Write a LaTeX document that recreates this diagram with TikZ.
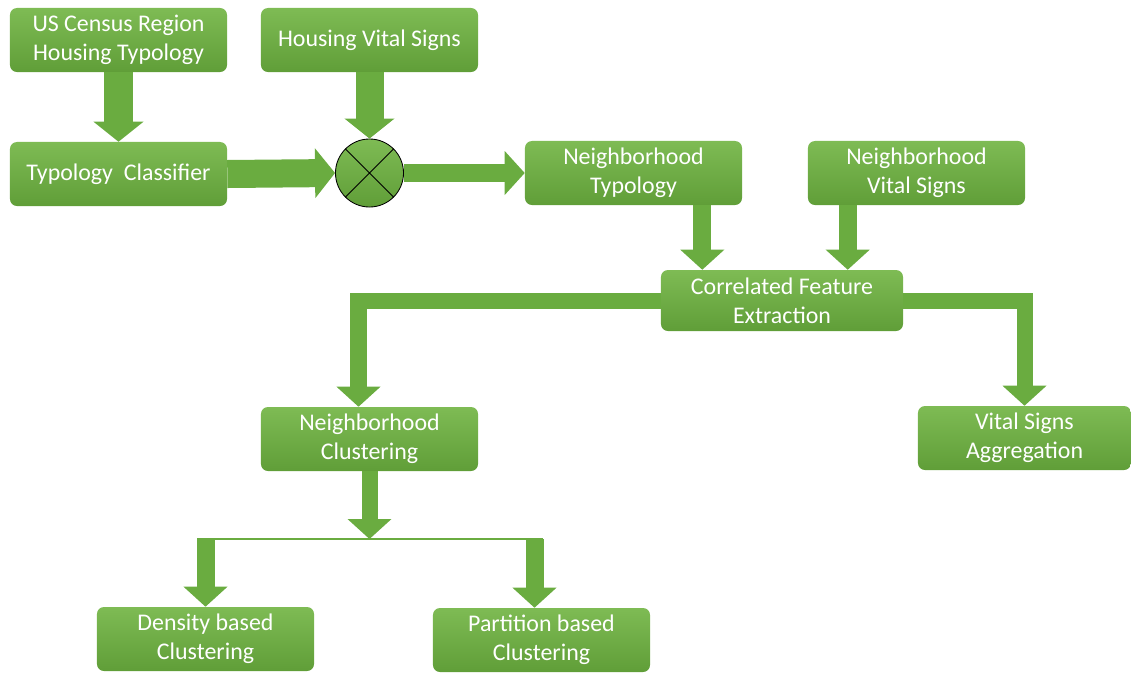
\documentclass[tikz,border=0pt]{standalone}
\usepackage{fontspec}
\setmainfont{Carlito}
\usetikzlibrary{arrows.meta}
\definecolor{boxtop}{RGB}{126,187,84}
\definecolor{boxbot}{RGB}{96,158,56}
\definecolor{arrowgreen}{RGB}{106,172,64}

\begin{document}
\begin{tikzpicture}[x=0.025cm,y=-0.025cm,
	box/.style={rounded corners=5pt, top color=boxtop, bottom color=boxbot, text=white, align=center,
		minimum width=5.425cm, minimum height=1.6cm, inner sep=0pt, font=\fontsize{17}{20.5}\selectfont},
	bigarrow/.style={draw=arrowgreen, line width=0.7cm, -{Triangle[width=1.25cm,length=0.5cm,line width=0pt]}},
	midarrow/.style={draw=arrowgreen, line width=0.45cm, -{Triangle[width=1.1cm,length=0.5cm,line width=0pt]}}]
		\useasboundingbox (0,0) rectangle (1131,673);
		% boxes
		\node[box] (census) at (118.5,40) {US Census Region\\Housing Typology};
		\node[box] (hvital) at (369.5,40) {Housing Vital Signs};
		\node[box] (classifier) at (118.5,174) {Typology\ \ Classifier};
		\node[circle, draw=black, line width=0.6pt, top color=boxtop, bottom color=boxbot, minimum size=1.7cm, inner sep=0pt] (mult) at (369.5,173) {};
		\draw[line width=0.6pt] (mult.north west) -- (mult.south east) (mult.north east) -- (mult.south west);
		\node[box] (ntypo) at (633.5,173) {Neighborhood\\Typology};
		\node[box] (nvital) at (916.5,173) {Neighborhood\\Vital Signs};
		\node[box, minimum width=6.05cm, minimum height=1.525cm] (corr) at (782,300.5) {Correlated Feature\\Extraction};
		\node[box] (nclust) at (369.5,439) {Neighborhood\\Clustering};
		\node[box, minimum width=5.325cm] (vagg) at (1024.5,438) {Vital Signs\\Aggregation};
		\node[box] (density) at (205.5,639) {Density based\\Clustering};
		\node[box] (partition) at (541.5,640) {Partition based\\Clustering};
		% arrows
		\draw[bigarrow] (census.south) -- (classifier.north);
		\draw[bigarrow] (hvital.south) -- (mult.north);
		\draw[bigarrow] (classifier.east) -- (mult.west);
		\draw[midarrow] (mult.east) -- (ntypo.west);
		\draw[midarrow] ([xshift=-1cm]ntypo.south east) -- ([xshift=-1cm]ntypo.south east |- corr.north);
		\draw[midarrow] ([xshift=1cm]nvital.south west) -- ([xshift=1cm]nvital.south west |- corr.north);
		\draw[midarrow, line width=0.4cm] (corr.west) -| ([xshift=-0.275cm]nclust.north);
		\draw[midarrow, line width=0.4cm] (corr.east) -| (vagg.north);
		\coordinate (split) at (369.5,539);
		\coordinate (splitL) at (197,539);
		\coordinate (splitR) at (543,539);
		\draw[midarrow, line width=0.4cm] (nclust.south) -- (split);
		\draw[arrowgreen, line width=0.05cm] (splitL) -- (splitR);
		\draw[midarrow] (density.north |- split) -- (density.north);
		\draw[midarrow] ([xshift=-0.175cm]partition.north |- split) -- ([xshift=-0.175cm]partition.north);
		\end{tikzpicture}
\end{document}
